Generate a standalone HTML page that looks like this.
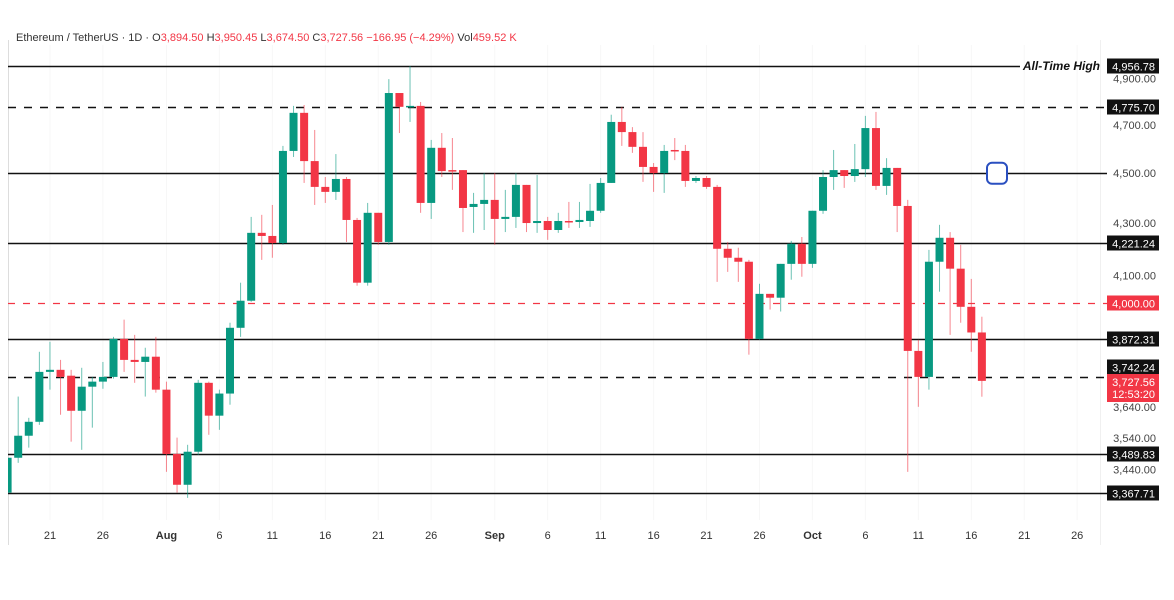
<!DOCTYPE html>
<html><head><meta charset="utf-8"><style>
html,body{margin:0;padding:0;background:#fff;}
svg{display:block;font-family:"Liberation Sans",sans-serif;}
</style></head><body>
<svg id="chart" width="1174" height="600" viewBox="0 0 1174 600" xmlns="http://www.w3.org/2000/svg">
<defs><clipPath id="plotclip"><rect x="8" y="40" width="1100" height="510"/></clipPath></defs>
<rect x="0" y="0" width="1174" height="600" fill="#fff"/>
<g id="grid"></g>
<g id="levels"></g>
<g id="candles" clip-path="url(#plotclip)"></g>
<g id="axis"></g>
<text x="16" y="41" font-size="11" fill="#333">Ethereum / TetherUS · 1D · O<tspan fill="#f23645">3,894.50</tspan> H<tspan fill="#f23645">3,950.45</tspan> L<tspan fill="#f23645">3,674.50</tspan> C<tspan fill="#f23645">3,727.56</tspan> <tspan fill="#f23645">−166.95 (−4.29%)</tspan> Vol<tspan fill="#f23645">459.52 K</tspan></text>
</svg>
<script>
const opens=[3369,3477,3547,3592,3758,3765,3745,3628,3708,3725,3741,3872,3799,3792,3810,3698,3489,3393,3496,3721,3612,3685,3911,4008,4262,4250,4223,4590,4751,4548,4443,4423,4475,4312,4074,4340,4227,4837,4777,4781,4379,4603,4511,4511,4363,4375,4391,4316,4324,4451,4300,4308,4273,4308,4304,4308,4348,4459,4712,4669,4607,4524,4499,4594,4590,4467,4479,4443,4201,4167,4152,3872,4033,4019,4144,4220,4144,4348,4483,4511,4487,4515,4686,4447,4520,4367,3830,3741,4152,4243,4126,3986,3894.5];
const highs=[3477,3675,3605,3827,3862,3799,3765,3772,3741,3792,3879,3940,3886,3841,3879,3725,3541,3518,3731,3725,3698,3929,4074,4324,4332,4371,4611,4781,4785,4678,4483,4577,4483,4320,4379,4340,4898,4837,4956.78,4798,4636,4665,4644,4511,4419,4499,4499,4431,4499,4451,4491,4324,4340,4383,4383,4455,4479,4743,4777,4690,4669,4540,4615,4644,4615,4487,4487,4451,4227,4205,4159,4070,4033,4144,4231,4246,4348,4511,4594,4511,4619,4738,4755,4560,4520,4391,3869,4197,4293,4265,4216,4088,3950.45];
const lows=[3363,3461,3509,3582,3698,3615,3528,3502,3573,3701,3735,3758,3721,3675,3688,3433,3369,3353,3486,3550,3566,3648,3879,4004,4159,4167,4216,4565,4459,4371,4379,4391,4227,4063,4063,4216,4216,4665,4712,4340,4316,4483,4431,4265,4262,4273,4216,4265,4281,4265,4262,4235,4262,4281,4281,4285,4340,4459,4611,4582,4463,4423,4419,4552,4443,4459,4435,4077,4114,4077,3817,3869,3976,3969,4085,4096,4129,4336,4431,4439,4463,4483,4431,4411,4265,3433,3641,3698,4041,3886,3929,3827,3674.5];
const closes=[3477,3547,3592,3758,3765,3741,3628,3708,3725,3741,3872,3799,3792,3810,3698,3489,3393,3496,3721,3612,3685,3911,4008,4262,4250,4223,4590,4751,4548,4443,4423,4475,4312,4074,4340,4227,4837,4777,4781,4379,4603,4507,4507,4359,4375,4391,4316,4324,4451,4300,4308,4273,4308,4304,4312,4348,4459,4712,4669,4607,4524,4499,4590,4590,4467,4479,4443,4201,4167,4152,3872,4033,4019,4144,4220,4144,4348,4483,4511,4487,4515,4686,4447,4520,4367,3830,3741,4152,4243,4126,3986,3894.5,3727.56];
const levelPrices=[4956.78,4775.70,4500,4221.24,4000,3872.31,3742.24,3489.83,3367.71];
const levelLabels=["4,956.78","4,775.70","","4,221.24","4,000.00","3,872.31","3,742.24","3,489.83","3,367.71"];
const levelStyles=["solid","dash","solid","solid","reddash","solid","dash","solid","solid"];
const tickPrices=[4900,4700,4500,4300,4100,3640,3540,3440];
const tickLabels=["4,900.00","4,700.00","4,500.00","4,300.00","4,100.00","3,640.00","3,540.00","3,440.00"];
const dateDays=[4,9,15,20,25,30,35,40,46,51,56,61,66,71,76,81,86,91,96,101];
const dateLabels=["21","26","Aug","6","11","16","21","26","Sep","6","11","16","21","26","Oct","6","11","16","21","26"];

const NS="http://www.w3.org/2000/svg";
const X0=7.6, DX=10.59;
const yRef=66, pRef=4956.78, K=1104.8;
function xs(i){return X0+i*DX;}
function ys(p){return yRef+(Math.log(pRef)-Math.log(p))*K;}
function mk(tag,attrs,parent){const e=document.createElementNS(NS,tag);for(const k in attrs)e.setAttribute(k,attrs[k]);parent.appendChild(e);return e;}
const grid=document.getElementById('grid'),lv=document.getElementById('levels'),cg=document.getElementById('candles'),ax=document.getElementById('axis');

mk('line',{x1:8.5,y1:40,x2:8.5,y2:545,stroke:'#ddd','stroke-width':1},grid);
mk('line',{x1:1100.5,y1:40,x2:1100.5,y2:545,stroke:'#f0f0f0','stroke-width':1},grid);
dateDays.forEach(d=>{mk('line',{x1:xs(d),y1:45,x2:xs(d),y2:520,stroke:'#f7f7f7','stroke-width':1},grid);});

levelPrices.forEach((p,i)=>{
  const y=Math.round(ys(p))+0.5, st=levelStyles[i];
  const x2 = i===0?1020:1107;
  const ln=mk('line',{x1:8,y1:y,x2:x2,y2:y,stroke:st==='reddash'?'#f23645':'#111','stroke-width':st==='reddash'?1.2:1.6},lv);
  if(st==='dash') ln.setAttribute('stroke-dasharray','8,8');
  if(st==='reddash') ln.setAttribute('stroke-dasharray','7,8');
  
  
  if(levelLabels[i]){
    const ly = i===6 ? y-10 : y;
    const bg=mk('rect',{x:1107,y:ly-8,width:52,height:15,fill:st==='reddash'?'#f23645':'#111'},lv);
    
    
    const t=mk('text',{x:1155,y:ly+4,'text-anchor':'end','font-size':11,fill:'#fff'},lv);
    t.textContent=levelLabels[i];
    
    
  }
});
const ath=mk('text',{x:1100,y:ys(4956.78)+4,'text-anchor':'end','font-size':12,'font-weight':'bold','font-style':'italic',fill:'#111'},lv);
ath.textContent='All-Time High';


const hd=mk('rect',{x:987,y:ys(4500)-10,width:20,height:21,rx:5,fill:'#fff',stroke:'#2a4fc0','stroke-width':2},lv);



opens.forEach((o,i)=>{
  const c=closes[i],h=highs[i],l=lows[i],up=c>=o,col=up?'#089981':'#f23645',x=xs(i);
  const g=mk('g',{},cg);
  
  
  mk('line',{x1:x,y1:ys(h),x2:x,y2:ys(l),stroke:col,'stroke-width':1,opacity:0.6},g);
  const top=ys(Math.max(o,c)),bot=ys(Math.min(o,c));
  mk('rect',{x:x-4,y:top,width:8,height:Math.max(1.5,bot-top),fill:col},g);
});

const cy=Math.round(ys(3742.24))-3;
const cp=mk('rect',{x:1107,y:cy,width:52,height:28,fill:'#f23645'},ax);


const cpt=mk('text',{x:1155,y:cy+12,'text-anchor':'end','font-size':11,fill:'#fff'},ax);
cpt.textContent='3,727.56';


const cdt=mk('text',{x:1155,y:cy+24,'text-anchor':'end','font-size':11,fill:'#fff'},ax);
cdt.textContent='12:53:20';



tickPrices.forEach((p,i)=>{
  const t=mk('text',{x:1156,y:ys(p)+4,'text-anchor':'end','font-size':11,fill:'#444'},ax);
  t.textContent=tickLabels[i];
  
  
});
dateDays.forEach((d,i)=>{
  const bold=isNaN(+dateLabels[i]);
  const t=mk('text',{x:xs(d),y:539,'text-anchor':'middle','font-size':11,fill:'#333','font-weight':bold?'bold':'normal'},ax);
  t.textContent=dateLabels[i];
  
  
});
</script>
</body></html>
